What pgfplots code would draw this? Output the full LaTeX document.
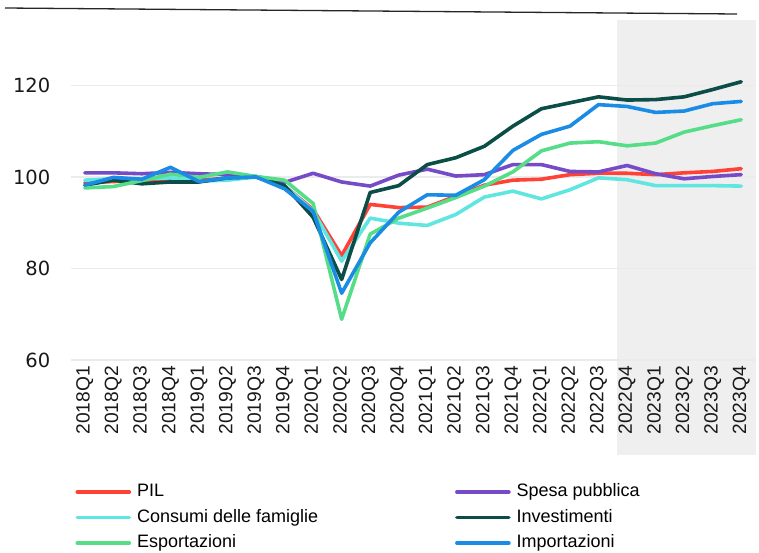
\documentclass[border=0pt]{standalone}
\usepackage{pgfplots}
\pgfplotsset{compat=1.18}
\usepackage{fontspec}
\setmainfont{Liberation Sans}
\newfontfamily\dejavu{DejaVu Sans}
\definecolor{cPIL}{HTML}{FF4136}
\definecolor{cSpesa}{HTML}{764BC8}
\definecolor{cCons}{HTML}{60E6E1}
\definecolor{cInv}{HTML}{0B4D47}
\definecolor{cExp}{HTML}{55DD88}
\definecolor{cImp}{HTML}{1A8CE6}
\definecolor{cGrid}{HTML}{EBEBEB}
\definecolor{cShade}{HTML}{EFEFEF}
\begin{document}
\begin{tikzpicture}
\draw[black!85, line width=1.3pt] (5pt,-8pt) -- (737pt,-14pt);
\begin{axis}[
  set layers,
  at={(70.5pt,-360pt)}, anchor=south west,
  scale only axis, width=685pt, height=340.5pt,
  xmin=-0.5, xmax=23.5, ymin=60, ymax=134.4,
  clip=false,
  axis line style={draw=none},
  major tick length=0pt,
  ytick={60,80,100,120},
  ymajorgrids, grid style={cGrid, line width=1.8pt},
  xtick={0,...,23},
  xticklabels={2018Q1,2018Q2,2018Q3,2018Q4,2019Q1,2019Q2,2019Q3,2019Q4,2020Q1,2020Q2,2020Q3,2020Q4,2021Q1,2021Q2,2021Q3,2021Q4,2022Q1,2022Q2,2022Q3,2022Q4,2023Q1,2023Q2,2023Q3,2023Q4},
  /pgf/number format/assume math mode=true,
  tick label style={text=black!90},
  yticklabel style={font=\dejavu\fontsize{19.5}{23}\selectfont, anchor=east, inner sep=0pt, xshift=-20pt},
  xticklabel style={font=\fontsize{19.2}{23}\selectfont, yshift=-6pt, rotate=90, anchor=east, inner sep=0pt},
  legend columns=2,
  legend cell align=left,
  legend style={draw=none, fill=none, at={(axis description cs:0.0073,-0.363)}, anchor=north west,
    inner sep=0pt, outer sep=0pt, column sep=6pt, row sep=8.5pt,
    font=\fontsize{18}{21}\selectfont,
    nodes={inner sep=0pt, text height=13pt, text depth=4pt}},
  legend image code/.code={\draw[#1] (0pt,0pt) -- (52pt,0pt);},
  every axis plot/.append style={line width=3.6pt, line join=round, line cap=round},
]
\begin{pgfonlayer}{axis background}
\fill[cShade] (axis cs:18.65,39.2) rectangle (axis cs:23.5,134.4);
\end{pgfonlayer}
\addplot[cPIL] coordinates {(0,98.7)(1,99.0)(2,99.2)(3,99.4)(4,99.3)(5,99.7)(6,100.0)(7,98.0)(8,92.9)(9,82.8)(10,94.0)(11,93.3)(12,93.4)(13,95.8)(14,98.2)(15,99.3)(16,99.5)(17,100.5)(18,100.8)(19,100.8)(20,100.5)(21,100.9)(22,101.2)(23,101.8)};
\addlegendentry{\makebox[312pt][l]{PIL}}
\addplot[cSpesa] coordinates {(0,100.9)(1,100.9)(2,100.7)(3,101.0)(4,100.7)(5,100.5)(6,100.1)(7,98.8)(8,100.8)(9,98.9)(10,98.0)(11,100.4)(12,101.7)(13,100.2)(14,100.5)(15,102.7)(16,102.7)(17,101.2)(18,101.1)(19,102.5)(20,100.7)(21,99.6)(22,100.1)(23,100.5)};
\addlegendentry{Spesa pubblica}
\addplot[cCons] coordinates {(0,99.3)(1,99.6)(2,99.6)(3,99.8)(4,99.1)(5,99.3)(6,100.0)(7,98.0)(8,92.6)(9,81.6)(10,91.0)(11,89.9)(12,89.4)(13,91.8)(14,95.6)(15,96.9)(16,95.2)(17,97.2)(18,99.8)(19,99.4)(20,98.1)(21,98.1)(22,98.1)(23,98.0)};
\addlegendentry{\makebox[312pt][l]{Consumi delle famiglie}}
\addplot[cInv] coordinates {(0,98.2)(1,99.3)(2,98.5)(3,98.9)(4,98.9)(5,99.8)(6,100.0)(7,98.1)(8,91.2)(9,77.6)(10,96.6)(11,98.1)(12,102.7)(13,104.2)(14,106.7)(15,111.1)(16,114.9)(17,116.2)(18,117.5)(19,116.8)(20,116.9)(21,117.5)(22,119.1)(23,120.8)};
\addlegendentry{Investimenti}
\addplot[cExp] coordinates {(0,97.6)(1,97.9)(2,99.2)(3,100.6)(4,99.9)(5,101.1)(6,100.1)(7,99.3)(8,94.2)(9,68.9)(10,87.5)(11,91.0)(12,93.2)(13,95.5)(14,98.0)(15,101.1)(16,105.7)(17,107.4)(18,107.7)(19,106.8)(20,107.4)(21,109.8)(22,111.2)(23,112.5)};
\addlegendentry{\makebox[312pt][l]{Esportazioni}}
\addplot[cImp] coordinates {(0,98.2)(1,99.9)(2,99.5)(3,102.1)(4,99.0)(5,99.8)(6,100.0)(7,97.4)(8,92.5)(9,74.6)(10,85.6)(11,92.3)(12,96.1)(13,96.0)(14,99.4)(15,105.8)(16,109.3)(17,111.1)(18,115.8)(19,115.4)(20,114.1)(21,114.4)(22,116.0)(23,116.5)};
\addlegendentry{Importazioni}
\end{axis}
\pgfresetboundingbox
\path[use as bounding box] (0pt,0pt) rectangle (759pt,-552pt);
\end{tikzpicture}
\end{document}
